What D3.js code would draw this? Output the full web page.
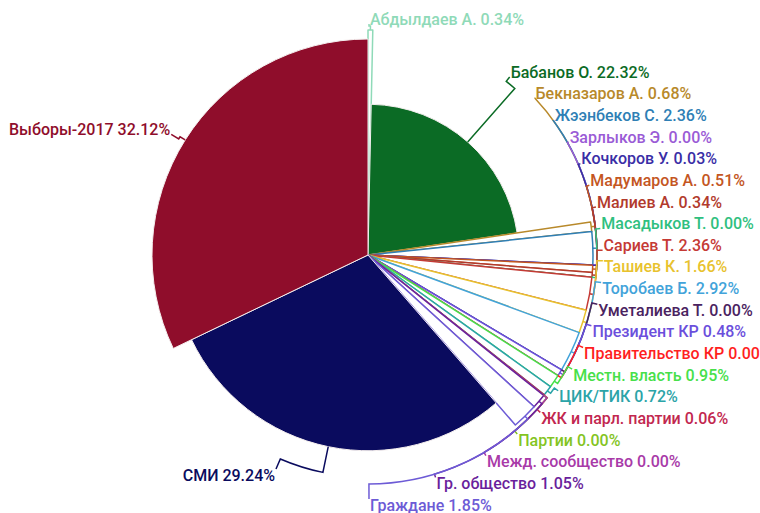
<!DOCTYPE html>
<html>
<head>
<meta charset="utf-8">
<script src="https://cdn.jsdelivr.net/npm/d3@7"></script>
<style>
  body { margin: 0; background: #fff; }
  svg { display: block; font-family: Roboto, "Noto Sans", sans-serif; }
</style>
</head>
<body>
<script>
// категории по порядку (по часовой стрелке от 12 часов)
const names = [
  'Абдылдаев А.', 'Бабанов О.', 'Бекназаров А.', 'Жээнбеков С.', 'Зарлыков Э.',
  'Кочкоров У.', 'Мадумаров А.', 'Малиев А.', 'Масадыков Т.', 'Сариев Т.',
  'Ташиев К.', 'Торобаев Б.', 'Уметалиева Т.', 'Президент КР', 'Правительство КР',
  'Местн. власть', 'ЦИК/ТИК', 'ЖК и парл. партии', 'Партии', 'Межд. сообщество',
  'Гр. общество', 'Граждане', 'СМИ', 'Выборы-2017'
];
// доля, %
const shares = [
  0.34, 22.32, 0.68, 2.36, 0.00,
  0.03, 0.51, 0.34, 0.00, 2.36,
  1.66, 2.92, 0.00, 0.48, 0.00,
  0.95, 0.72, 0.06, 0.00, 0.00,
  1.05, 1.85, 29.24, 32.12
];
// второй показатель -> радиус сектора
const reach = [
  100, 67, 100, 100, 100,
  100, 100, 100, 100, 100,
  100, 100, 100, 100, 100,
  100, 100, 100, 100, 100,
  100, 100, 87, 96
];
const colors = [
  '#8fdab8', '#0b6b25', '#b8892a', '#2f7fb5', '#9a5bd6',
  '#3a2ea6', '#c4561f', '#b23a2c', '#2fbf80', '#c53a35',
  '#e8c22e', '#42a3da', '#4a2360', '#6b4fdc', '#ff1f1f',
  '#47e04a', '#2ba4a8', '#c2274f', '#84c41f', '#a83aa8',
  '#6a1f9c', '#6d5bd6', '#0a0b5e', '#8f0d2b'
];

const width = 760, height = 513;
const cx = 368, cy = 255;

const data = names.map((n, i) => ({ name: n, share: shares[i], reach: reach[i], color: colors[i] }));

const rScale = d3.scaleLinear().domain([0, 100]).range([0, 225]);

const pie = d3.pie().sort(null).value(d => d.share);
const arcs = pie(data);

const svg = d3.select('body').append('svg')
  .attr('width', width)
  .attr('height', height);

const g = svg.append('g').attr('transform', 'translate(' + cx + ',' + cy + ')');

const arc = d3.arc().innerRadius(0).outerRadius(d => rScale(d.data.reach));

g.selectAll('.slice')
  .data(arcs)
  .enter()
  .append('path')
  .attr('class', 'slice')
  .attr('d', arc)
  .style('fill', d => d.data.share > 10 ? d.data.color : '#fff')
  .style('stroke', d => d.data.share > 10 ? '#f4eeee' : d.data.color)
  .style('stroke-width', d => d.data.share > 10 ? 1 : 1.5)
  .style('stroke-linejoin', 'round');

// раскладка подписей
const labelR = 234, labelCy = cy + 4, naturalR = 236, spacing = 21.65;
arcs.forEach(d => {
  d.mid = (d.startAngle + d.endAngle) / 2;
  d.right = d.mid < Math.PI;
  d.ly = cy - naturalR * Math.cos(d.mid);
});

function spread(list, top, bottom) {
  for (let i = 1; i < list.length; i++) {
    list[i].ly = Math.max(list[i].ly, list[i - 1].ly + spacing);
  }
  if (list[list.length - 1].ly > bottom) list[list.length - 1].ly = bottom;
  for (let i = list.length - 2; i >= 0; i--) {
    list[i].ly = Math.min(list[i].ly, list[i + 1].ly - spacing);
  }
  if (list[0].ly < top) list[0].ly = top;
}

const rightSide = arcs.filter(d => d.right).sort((a, b) => a.mid - b.mid);
const leftSide = arcs.filter(d => !d.right).sort((a, b) => b.mid - a.mid);
spread(rightSide, 12, 505);
spread(leftSide, 12, 475);

arcs.forEach(d => {
  const dy = d.ly - labelCy;
  const dx = Math.sqrt(Math.max(0, labelR * labelR - dy * dy));
  d.lx = d.right ? cx + dx + 2 : cx - dx - 3;
});

// линии-выноски
const links = svg.append('g').attr('transform', 'translate(' + cx + ',' + cy + ')');
links.selectAll('.tick')
  .data(arcs)
  .enter()
  .append('path')
  .attr('class', 'tick')
  .attr('d', d => {
    const r0 = rScale(d.data.reach);
    const rc = Math.max(r0 + 4, 222);
    const tx = (d.right ? d.lx - 1 : d.lx + 1) - cx;
    const ty = d.ly + (d.ly < cy ? 5 : -6) - cy;
    const a0 = d.mid - Math.PI / 2;
    let a1 = Math.atan2(ty, tx);
    if (a1 < a0 - Math.PI) a1 += 2 * Math.PI;
    if (a1 > a0 + Math.PI) a1 -= 2 * Math.PI;
    const p = d3.path();
    p.moveTo(r0 * Math.cos(a0), r0 * Math.sin(a0));
    p.lineTo(rc * Math.cos(a0), rc * Math.sin(a0));
    p.arc(0, 0, rc, a0, a1, a1 < a0);
    p.lineTo(tx, ty);
    return p.toString();
  })
  .style('fill', 'none')
  .style('stroke', d => d.data.color)
  .style('stroke-width', 1.5);

svg.append('g').selectAll('.label')
  .data(arcs)
  .enter()
  .append('text')
  .attr('class', 'label')
  .attr('x', d => d.lx)
  .attr('y', d => d.ly)
  .attr('dy', '0.35em')
  .style('text-anchor', d => d.right ? 'start' : 'end')
  .style('font-size', '16px')
  .style('font-weight', 500)
  .style('fill', d => d.data.color)
  .text(d => d.data.name + ' ' + d.data.share.toFixed(2) + '%');
</script>
</body>
</html>
